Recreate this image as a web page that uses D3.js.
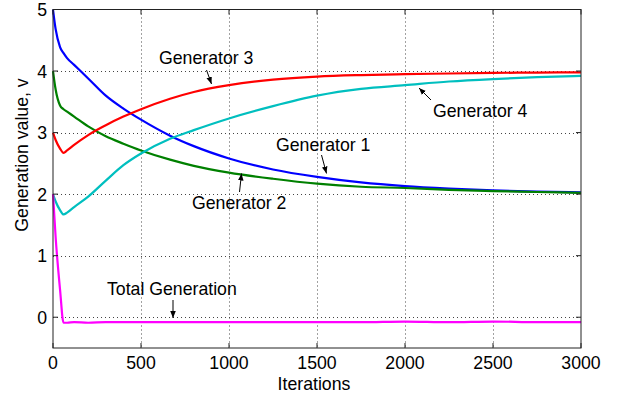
<!DOCTYPE html>
<html>
<head>
<meta charset="utf-8">
<script src="https://cdn.jsdelivr.net/npm/d3@7"></script>
<style>
  body { margin: 0; background: #fff; }
  text { font-family: Arial, "Liberation Sans", sans-serif; }
</style>
</head>
<body>
<script>
// iteration samples
const iters = [0, 15, 40, 60, 80, 120, 200, 300, 400, 500, 665, 800, 1000, 1250, 1500, 1750, 2000, 2250, 2500, 2750, 3000];
const gen1 = [5.00, 4.68, 4.39, 4.29, 4.21, 4.10, 3.88, 3.60, 3.39, 3.21, 2.95, 2.78, 2.58, 2.40, 2.28, 2.19, 2.13, 2.09, 2.06, 2.04, 2.03];
const gen2 = [4.00, 3.70, 3.44, 3.38, 3.34, 3.26, 3.10, 2.94, 2.82, 2.71, 2.56, 2.46, 2.35, 2.25, 2.17, 2.12, 2.10, 2.07, 2.05, 2.035, 2.02];
const gen3 = [3.00, 2.88, 2.74, 2.67, 2.71, 2.80, 2.96, 3.12, 3.26, 3.38, 3.55, 3.66, 3.77, 3.86, 3.91, 3.935, 3.95, 3.96, 3.97, 3.975, 3.98];
const gen4 = [2.00, 1.88, 1.74, 1.67, 1.70, 1.79, 1.96, 2.22, 2.47, 2.66, 2.90, 3.04, 3.23, 3.43, 3.60, 3.71, 3.77, 3.83, 3.87, 3.90, 3.92];
const total = [2.00, 1.30, 0.45, -0.09, -0.09, -0.08, -0.09, -0.08, -0.08, -0.08, -0.08, -0.08, -0.08, -0.08, -0.08, -0.08, -0.07, -0.08, -0.07, -0.08, -0.08];

const xTicks = [0, 500, 1000, 1500, 2000, 2500, 3000];
const yTicks = [0, 1, 2, 3, 4, 5];

const seriesNames = ["Generator 1", "Generator 2", "Generator 3", "Generator 4", "Total Generation"];
const seriesValues = [gen1, gen2, gen3, gen4, total];
const seriesColors = ["#0000ff", "#008000", "#ff0000", "#00bfbf", "#ff00ff"];

// label placement (pixels): text start / baseline, arrow tail -> head
const notes = [
  {name: "Generator 3", tx: 159, ty: 64, a: [206.5, 70, 211.5, 84]},
  {name: "Generator 4", tx: 433, ty: 117, a: [431, 100, 419, 88]},
  {name: "Generator 1", tx: 276, ty: 151, a: [321.5, 155, 326.5, 173.5]},
  {name: "Generator 2", tx: 192, ty: 209, a: [239.5, 192, 241.5, 173.5]},
  {name: "Total Generation", tx: 107, ty: 295, a: [173, 300, 173, 318]}
];

const W = 621, H = 396;
const M = {left: 53, right: 40, top: 9.5, bottom: 48};

const svg = d3.select("body").append("svg")
  .attr("width", W).attr("height", H);

const x = d3.scaleLinear().domain([0, 3000]).range([M.left, W - M.right]);
const y = d3.scaleLinear().domain([-0.5, 5]).range([H - M.bottom, M.top]);

// grid
const grid = svg.append("g")
  .attr("stroke", "#444").attr("stroke-width", 1)
  .attr("stroke-dasharray", "1,3");
xTicks.slice(1, -1).forEach(t => {
  grid.append("line")
    .attr("x1", Math.round(x(t)) + 0.5).attr("x2", Math.round(x(t)) + 0.5)
    .attr("y1", y(5)).attr("y2", y(-0.5));
});
yTicks.slice(0, -1).forEach(t => {
  grid.append("line")
    .attr("y1", Math.round(y(t)) + 0.5).attr("y2", Math.round(y(t)) + 0.5)
    .attr("x1", x(0)).attr("x2", x(3000));
});

// lines
const line = d3.line()
  .x((d, i) => x(iters[i]))
  .y(d => y(d))
  .curve(d3.curveMonotoneX);

seriesValues.forEach((vals, k) => {
  svg.append("path")
    .datum(vals)
    .attr("fill", "none")
    .attr("stroke", seriesColors[k])
    .attr("stroke-width", 2.2)
    .attr("stroke-linejoin", "round")
    .attr("d", line);
});

// axes box with inward ticks on every side
const tl = 5;
const box = svg.append("g").attr("stroke", "#222").attr("stroke-width", 1);
box.append("rect")
  .attr("x", x(0)).attr("y", y(5))
  .attr("width", x(3000) - x(0)).attr("height", y(-0.5) - y(5))
  .attr("fill", "none");
xTicks.forEach(t => {
  box.append("line").attr("x1", x(t)).attr("x2", x(t))
    .attr("y1", y(-0.5)).attr("y2", y(-0.5) - tl);
  box.append("line").attr("x1", x(t)).attr("x2", x(t))
    .attr("y1", y(5)).attr("y2", y(5) + tl);
});
yTicks.forEach(t => {
  box.append("line").attr("y1", y(t)).attr("y2", y(t))
    .attr("x1", x(0)).attr("x2", x(0) + tl);
  box.append("line").attr("y1", y(t)).attr("y2", y(t))
    .attr("x1", x(3000)).attr("x2", x(3000) - tl);
});

// tick labels
const fs = "17.7px";
svg.append("g").selectAll("text").data(xTicks).join("text")
  .attr("x", d => x(d)).attr("y", 369)
  .attr("text-anchor", "middle").attr("font-size", fs)
  .text(d => d);
svg.append("g").selectAll("text").data(yTicks).join("text")
  .attr("x", 47).attr("y", d => y(d) + 6.5)
  .attr("text-anchor", "end").attr("font-size", fs)
  .text(d => d);

// axis titles
svg.append("text")
  .attr("x", 314).attr("y", 390)
  .attr("text-anchor", "middle").attr("font-size", fs)
  .text("Iterations");
svg.append("text")
  .attr("transform", "translate(28,155) rotate(-90)")
  .attr("text-anchor", "middle").attr("font-size", fs)
  .text("Generation value, v");

// annotations
svg.append("defs").append("marker")
  .attr("id", "ah").attr("viewBox", "0 0 10 10")
  .attr("refX", 10).attr("refY", 5)
  .attr("markerWidth", 7).attr("markerHeight", 7)
  .attr("markerUnits", "userSpaceOnUse")
  .attr("orient", "auto")
  .append("path").attr("d", "M0,1 L10,5 L0,9 Z").attr("fill", "#000");

notes.forEach(n => {
  svg.append("text")
    .attr("x", n.tx).attr("y", n.ty)
    .attr("font-size", fs)
    .text(n.name);
  svg.append("line")
    .attr("x1", n.a[0]).attr("y1", n.a[1])
    .attr("x2", n.a[2]).attr("y2", n.a[3])
    .attr("stroke", "#000").attr("stroke-width", 1)
    .attr("marker-end", "url(#ah)");
});
</script>
</body>
</html>
